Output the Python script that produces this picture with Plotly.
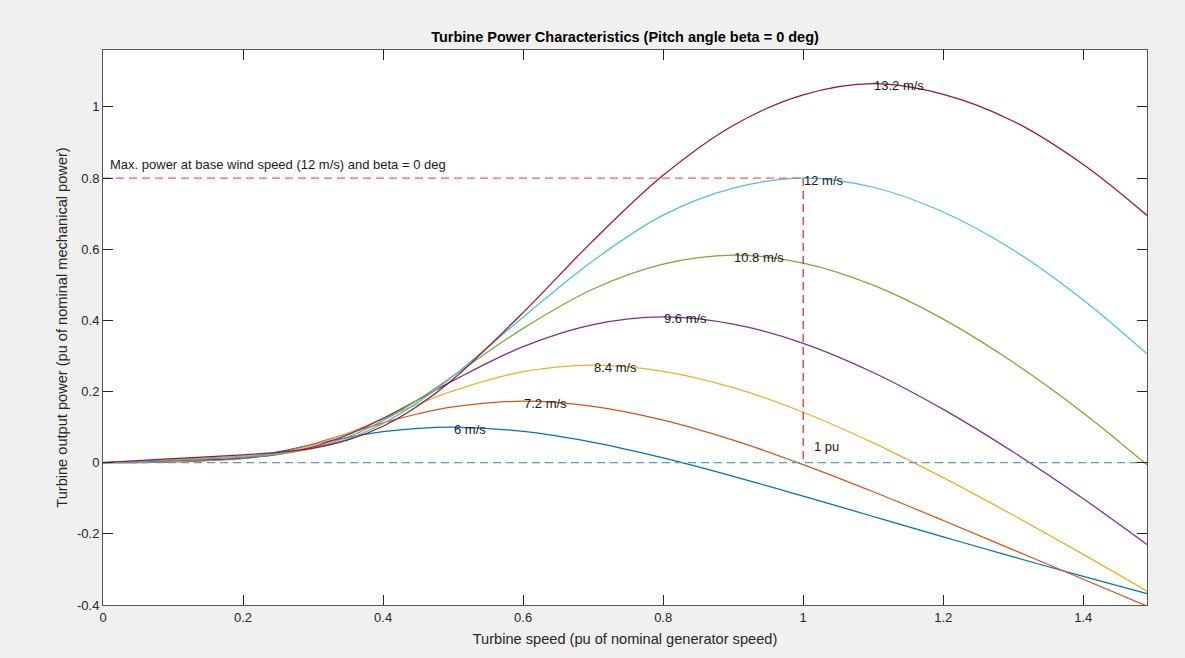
import plotly.graph_objects as go

# Turbine speed (pu of nominal generator speed)
speed = [0, 0.1, 0.2, 0.25, 0.3, 0.35, 0.4, 0.45, 0.5, 0.6, 0.7, 0.8,
         0.9, 1.0, 1.1, 1.2, 1.3, 1.4, 1.491]

wind_labels = ['6 m/s', '7.2 m/s', '8.4 m/s', '9.6 m/s', '10.8 m/s', '12 m/s', '13.2 m/s']

# Turbine output power (pu) read for each wind speed
p_6 = [0, 0.0023, 0.0138, 0.0304, 0.0511, 0.0710, 0.0870, 0.0965, 0.1000, 0.0881,
       0.0572, 0.0135, -0.0382, -0.0940, -0.1513, -0.2085, -0.2648, -0.3193, -0.368]
p_7_2 = [0, 0.0033, 0.0121, 0.0278, 0.0525, 0.0823, 0.1119, 0.1376, 0.1567, 0.1729,
         0.1584, 0.1196, 0.0632, -0.0053, -0.0817, -0.1624, -0.2449, -0.3276, -0.403]
p_8_4 = [0, 0.0045, 0.0119, 0.0247, 0.0490, 0.0834, 0.1237, 0.1645, 0.2017, 0.2558,
         0.2745, 0.2569, 0.2109, 0.1418, 0.0556, -0.0421, -0.1477, -0.2578, -0.361]
p_9_6 = [0, 0.0059, 0.0131, 0.0231, 0.0443, 0.0788, 0.1245, 0.1769, 0.2307, 0.3261,
         0.3881, 0.4098, 0.3895, 0.3356, 0.2535, 0.1498, 0.0299, -0.1015, -0.230]
p_10_8 = [0, 0.0074, 0.0155, 0.0235, 0.0410, 0.0723, 0.1187, 0.1773, 0.2434, 0.3775,
          0.4881, 0.5581, 0.5834, 0.5612, 0.4989, 0.4036, 0.2821, 0.1400, -0.006]
p_12 = [0, 0.0092, 0.0184, 0.0262, 0.0400, 0.0669, 0.1105, 0.1702, 0.2432, 0.4090,
        0.5678, 0.6957, 0.7717, 0.8000, 0.7742, 0.7045, 0.5980, 0.4575, 0.306]
p_13_2 = [0, 0.0111, 0.0222, 0.0292, 0.0411, 0.0639, 0.1026, 0.1599, 0.2348, 0.4219,
          0.6243, 0.8077, 0.9479, 1.0337, 1.0652, 1.0353, 0.9599, 0.8381, 0.695]

power_series = [p_6, p_7_2, p_8_4, p_9_6, p_10_8, p_12, p_13_2]

# reference: base wind speed curve max at 1 pu speed
base_speed = 1.0
base_power = max(p_12)

x_ticks = [0, 0.2, 0.4, 0.6, 0.8, 1.0, 1.2, 1.4]
x_tick_text = ['0', '0.2', '0.4', '0.6', '0.8', '1', '1.2', '1.4']
y_ticks = [-0.4, -0.2, 0, 0.2, 0.4, 0.6, 0.8, 1.0]
y_tick_text = ['-0.4', '-0.2', '0', '0.2', '0.4', '0.6', '0.8', '1']

colors = ['#0072BD', '#D95319', '#EDB120', '#7E2F8E', '#77AC30', '#4DBEEE', '#A2142F']
FONT = 'Liberation Sans, Arial, Helvetica, sans-serif'
TXT = '#262626'
DASH = '8px,5px'

fig = go.Figure()

for name, ys, c in zip(wind_labels, power_series, colors):
    fig.add_trace(go.Scatter(x=speed, y=ys, mode='lines', name=name,
                             line=dict(color=c, width=1.25, shape='spline', smoothing=1.0),
                             showlegend=False, hoverinfo='x+y+name'))

# dashed reference lines
fig.add_trace(go.Scatter(x=[speed[0], speed[-1]], y=[0, 0], mode='lines',
                         line=dict(color='#4a9fdc', width=1.3, dash=DASH),
                         showlegend=False, hoverinfo='skip'))
fig.add_trace(go.Scatter(x=[speed[0], base_speed], y=[base_power, base_power], mode='lines',
                         line=dict(color='#ff5a5a', width=1.3, dash=DASH),
                         showlegend=False, hoverinfo='skip'))
fig.add_trace(go.Scatter(x=[base_speed, base_speed], y=[base_power, 0], mode='lines',
                         line=dict(color='#e0303a', width=1.3, dash=DASH),
                         showlegend=False, hoverinfo='skip'))

annotations = []
for name, ys in zip(wind_labels, power_series):
    i = ys.index(max(ys))
    annotations.append(dict(x=speed[i], y=ys[i], xref='x', yref='y', text=name,
                            showarrow=False, xanchor='left', yanchor='middle',
                            xshift=-1, yshift=-2,
                            font=dict(family=FONT, size=13, color='#1a1a1a')))
annotations.append(dict(x=0.01, y=0.84, xref='x', yref='y',
                        text='Max. power at base wind speed (12 m/s) and beta = 0 deg',
                        showarrow=False, xanchor='left', yanchor='middle', xshift=-2, yshift=-1,
                        font=dict(family=FONT, size=13, color='#1a1a1a')))
annotations.append(dict(x=1.012, y=0.045, xref='x', yref='y', text='1 pu',
                        showarrow=False, xanchor='left', yanchor='middle',
                        font=dict(family=FONT, size=13, color='#1a1a1a')))

axis_common = dict(showgrid=False, zeroline=False, showline=True, linecolor='#555555',
                   linewidth=1, mirror='ticks', ticks='inside', ticklen=10,
                   tickcolor='#262626', tickwidth=1,
                   tickfont=dict(family=FONT, size=13, color=TXT))

fig.update_layout(
    width=1185, height=658, autosize=False,
    margin=dict(l=103, r=38, t=50, b=53),
    paper_bgcolor='#f0f0f0', plot_bgcolor='#ffffff',
    title=dict(text='<b>Turbine Power Characteristics (Pitch angle beta = 0 deg)</b>',
               x=0.5, xref='paper', xanchor='center', y=1 - 37 / 658, yref='container',
               yanchor='middle', font=dict(family=FONT, size=14.5, color='#000000')),
    xaxis=dict(range=[0, speed[-1]], tickvals=x_ticks, ticktext=x_tick_text,
               title=dict(text='Turbine speed (pu of nominal generator speed)', standoff=10,
                          font=dict(family=FONT, size=14.6, color=TXT)),
               **axis_common),
    yaxis=dict(range=[-0.4, 1.16], tickvals=y_ticks, ticktext=y_tick_text,
               title=dict(text='Turbine output power (pu of nominal mechanical power)', standoff=5,
                          font=dict(family=FONT, size=14.6, color=TXT)),
               **axis_common),
    annotations=annotations,
)

fig.write_html('out.html')
